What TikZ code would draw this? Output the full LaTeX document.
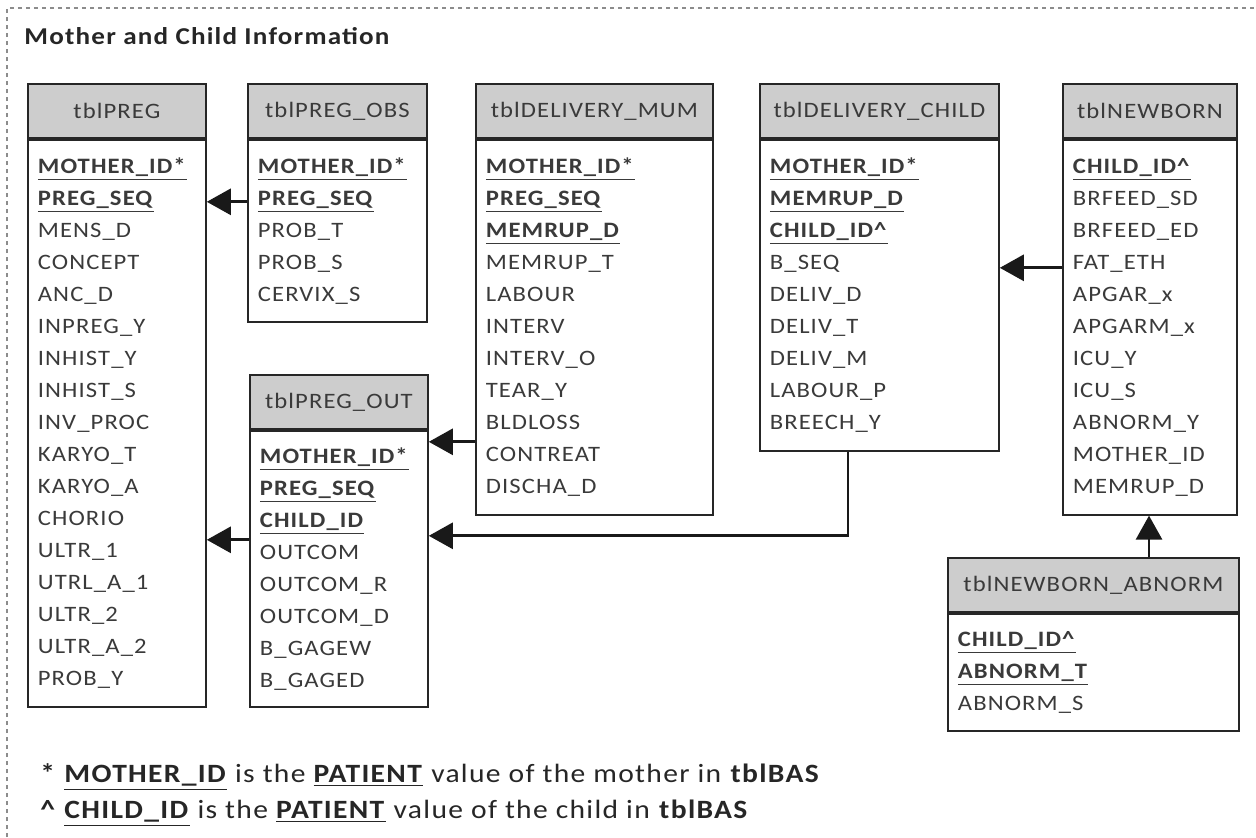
\documentclass[tikz,border=0pt]{standalone}
\usepackage{fontspec}
\setmainfont{Carlito}[FakeStretch=1.12, LetterSpace=5]
\usetikzlibrary{positioning, calc, arrows.meta}
\definecolor{hdgray}{HTML}{CDCDCD}
\definecolor{txtgray}{HTML}{3A3A3A}
\newcommand{\pk}[1]{\underline{\textbf{#1}}}

\begin{document}
\begin{tikzpicture}[x=0.5pt, y=-0.5pt]
	% styles
	\tikzstyle{head} = [draw=black!85, line width=0.9pt, fill=hdgray, anchor=north west, minimum height=27pt, inner sep=0pt, font=\fontsize{11}{14}\selectfont, text=txtgray]
	\tikzstyle{body} = [draw=black!85, line width=0.9pt, anchor=north west, inner xsep=5pt, inner ysep=0pt, align=left, font=\fontsize{11}{16}\selectfont, text=txtgray]
	\tikzstyle{arr} = [line width=1.4pt, draw=black!90, -{Triangle[length=12pt,width=13pt]}]
	\tikzstyle{frame} = [draw=black!45, line width=0.6pt, dash pattern=on 2pt off 2pt]
	\tikzstyle{note} = [anchor=west, inner sep=0pt, font=\fontsize{13.2}{16}\selectfont, text=black!85]
	
	\useasboundingbox (0,0) rectangle (1256,837);
	\draw[frame] (7,837) -- (7,8) -- (1256,8);
	\node[anchor=west, inner sep=0pt, font=\bfseries\fontsize{12.1}{14}\selectfont, text=black!85] (title) at (24,36) {Mother and Child Information};
	
	% tables
	\node[head, minimum width=89pt] (preg-h) at (27,83) {tblPREG};
	\node[body, minimum width=89pt, text width=79pt, minimum height=283.5pt] (preg) at (preg-h.south west)
		{\pk{MOTHER\_ID*}\\ \pk{PREG\_SEQ}\\ MENS\_D\\ CONCEPT\\ ANC\_D\\ INPREG\_Y\\ INHIST\_Y\\ INHIST\_S\\ INV\_PROC\\ KARYO\_T\\ KARYO\_A\\ CHORIO\\ ULTR\_1\\ UTRL\_A\_1\\ ULTR\_2\\ ULTR\_A\_2\\ PROB\_Y};
	
	\node[head, minimum width=89.5pt] (obs-h) at (247,83) {tblPREG\_OBS};
	\node[body, minimum width=89.5pt, text width=79.5pt, minimum height=91pt] (obs) at (obs-h.south west)
		{\pk{MOTHER\_ID*}\\ \pk{PREG\_SEQ}\\ PROB\_T\\ PROB\_S\\ CERVIX\_S};
	
	\node[head, minimum width=89pt] (out-h) at (249,374) {tblPREG\_OUT};
	\node[body, minimum width=89pt, text width=79pt, minimum height=138pt] (out) at (out-h.south west)
		{\pk{MOTHER\_ID*}\\ \pk{PREG\_SEQ}\\ \pk{CHILD\_ID}\\ OUTCOM\\ OUTCOM\_R\\ OUTCOM\_D\\ B\_GAGEW\\ B\_GAGED};
	
	\node[head, minimum width=118.5pt] (mum-h) at (475,83) {tblDELIVERY\_MUM};
	\node[body, minimum width=118.5pt, text width=108.5pt, minimum height=187.5pt] (mum) at (mum-h.south west)
		{\pk{MOTHER\_ID*}\\ \pk{PREG\_SEQ}\\ \pk{MEMRUP\_D}\\ MEMRUP\_T\\ LABOUR\\ INTERV\\ INTERV\_O\\ TEAR\_Y\\ BLDLOSS\\ CONTREAT\\ DISCHA\_D};
	
	\node[head, minimum width=119.5pt] (child-h) at (759,83) {tblDELIVERY\_CHILD};
	\node[body, minimum width=119.5pt, text width=109.5pt, minimum height=155.5pt] (child) at (child-h.south west)
		{\pk{MOTHER\_ID*}\\ \pk{MEMRUP\_D}\\ \pk{CHILD\_ID\^{}}\\ B\_SEQ\\ DELIV\_D\\ DELIV\_T\\ DELIV\_M\\ LABOUR\_P\\ BREECH\_Y};
	
	\node[head, minimum width=87pt] (nb-h) at (1062,83) {tblNEWBORN};
	\node[body, minimum width=87pt, text width=77pt, minimum height=187.5pt] (nb) at (nb-h.south west)
		{\pk{CHILD\_ID\^{}}\\ BRFEED\_SD\\ BRFEED\_ED\\ FAT\_ETH\\ APGAR\_x\\ APGARM\_x\\ ICU\_Y\\ ICU\_S\\ ABNORM\_Y\\ MOTHER\_ID\\ MEMRUP\_D};
	
	\node[head, minimum width=145.5pt] (abn-h) at (947,557) {tblNEWBORN\_ABNORM};
	\node[body, minimum width=145.5pt, text width=135.5pt, minimum height=58.5pt] (abn) at (abn-h.south west)
		{\pk{CHILD\_ID\^{}}\\ \pk{ABNORM\_T}\\ ABNORM\_S};
	
	% connector ends
	\coordinate (obs-out) at ([yshift=-31.5pt]obs.north west);
	\coordinate (mum-out) at ([yshift=-151.5pt]mum.north west);
	\coordinate (out-out) at ([yshift=-55pt]out.north west);
	\coordinate (child-out) at ([xshift=44.5pt]child.south west);
	\coordinate (out-in) at ([yshift=-53pt]out.north east);
	\coordinate (nb-out) at ([yshift=-64.5pt]nb.north west);
	\coordinate (nb-in) at ([xshift=43.5pt]nb.south west);
	
	% connectors
	\draw[arr] (obs-out) -- (obs-out -| preg.east);
	\draw[arr] (mum-out) -- (mum-out -| out.east);
	\draw[arr] (out-out) -- (out-out -| preg.east);
	\draw[arr] (child-out) |- (out-in);
	\draw[arr] (nb-out) -- (nb-out -| child.east);
	\draw[arr] (nb-in |- abn-h.north) -- (nb-in);
	
	% notes
	\node[note] (note1) at (40,777)
		{\textbf{*} \pk{MOTHER\_ID} is the \pk{PATIENT} value of the mother in \textbf{tblBAS}};
	\node[note] (note2) at (40,813)
		{\textbf{\^{}} \pk{CHILD\_ID} is the \pk{PATIENT} value of the child in \textbf{tblBAS}};
\end{tikzpicture}
\end{document}
